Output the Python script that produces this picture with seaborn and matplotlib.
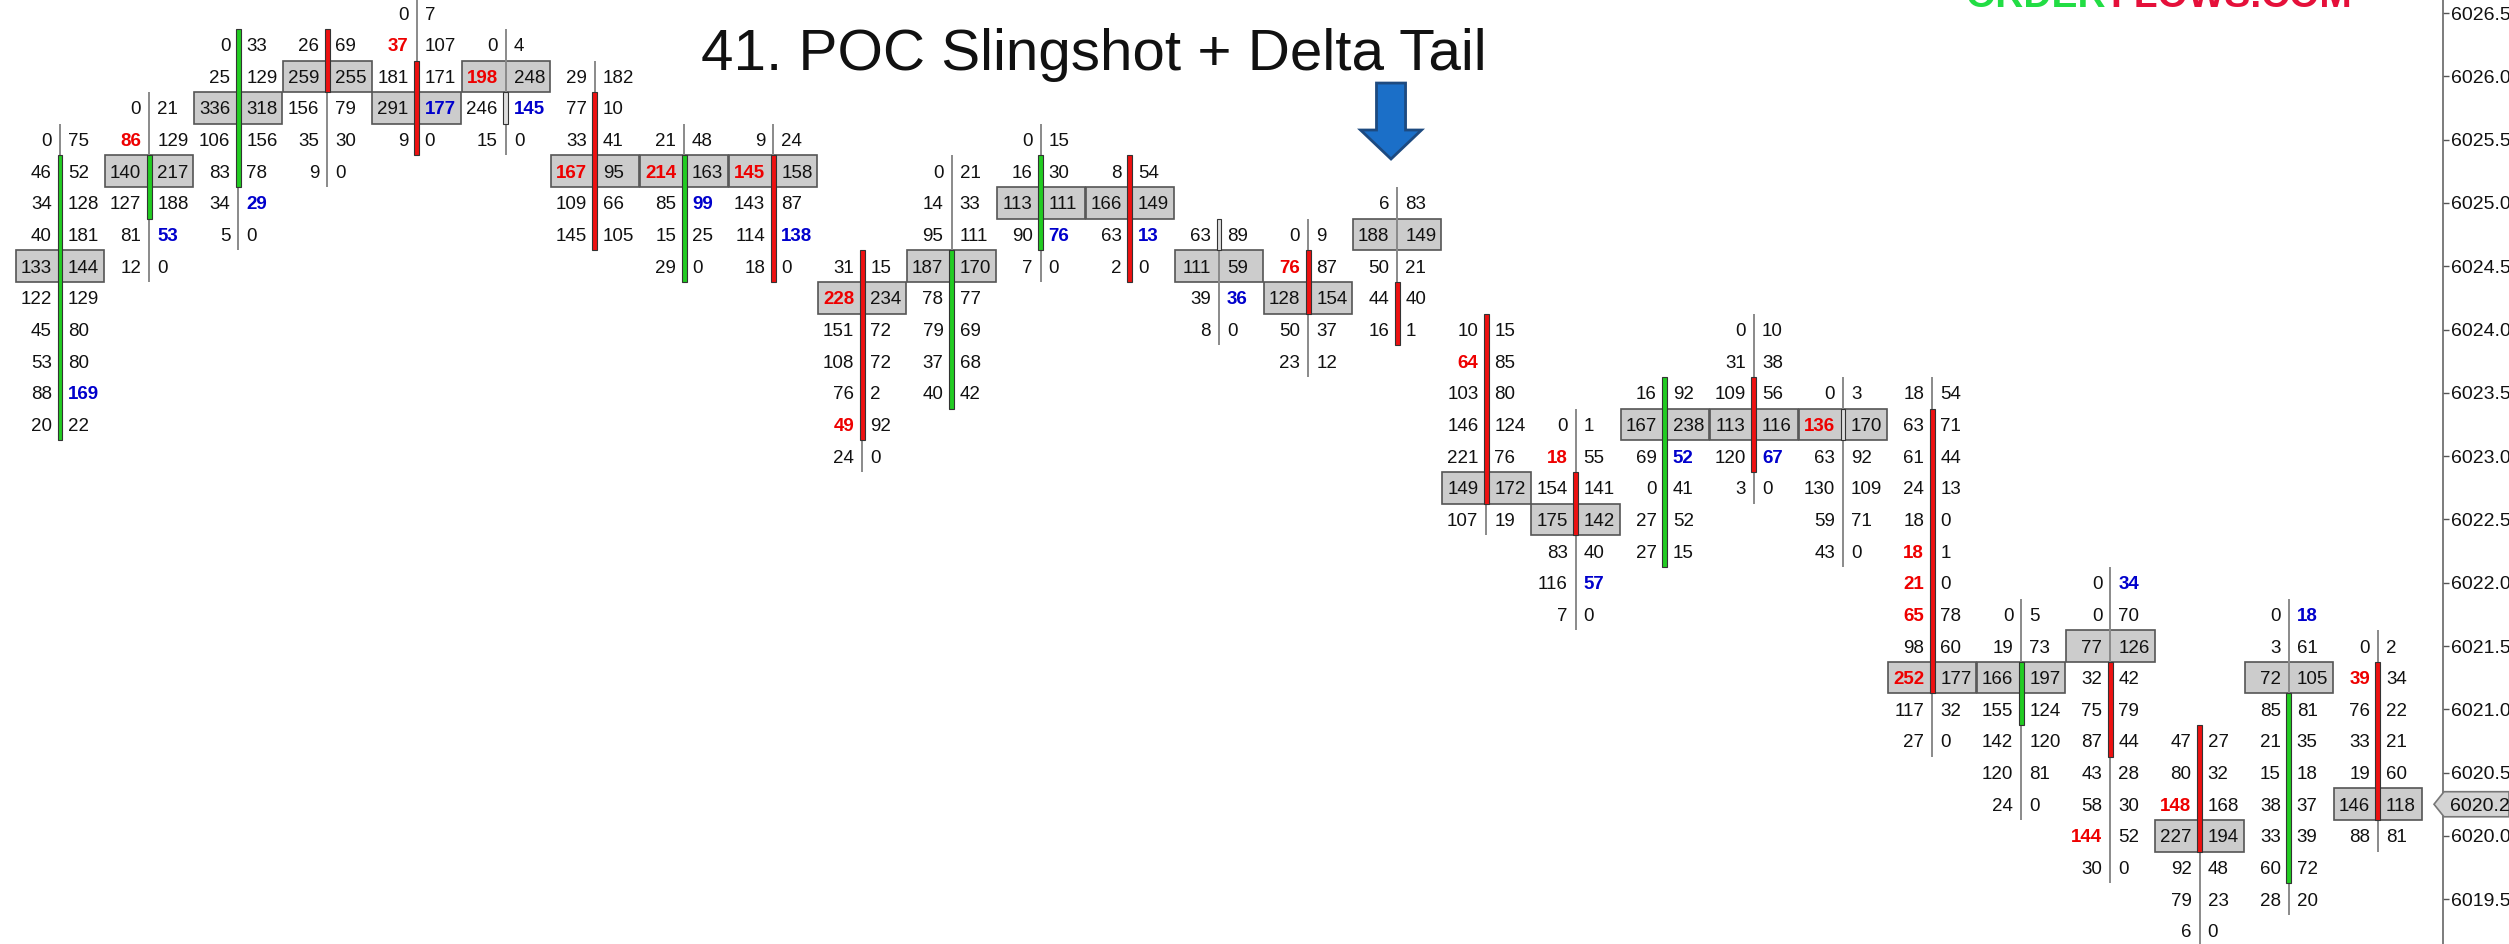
import numpy as np
import matplotlib
matplotlib.use('Agg')
import matplotlib.pyplot as plt
import matplotlib.patches as mpatches
import matplotlib.transforms as mtrans
from matplotlib.ticker import FormatStrFormatter
import seaborn as sns

TICK = 0.25

# footprint bars, left to right; rows listed from the high down to the low
high_price = [6025.5, 6025.75, 6026.25, 6026.25, 6026.5, 6026.25, 6026.0, 6025.5, 6025.5,
              6024.5, 6025.25, 6025.5, 6025.25, 6024.75, 6024.75, 6025.0, 6024.0, 6023.25,
              6023.5, 6024.0, 6023.5, 6023.5, 6021.75, 6022.0, 6020.75, 6021.75, 6021.5]
open_price = [6023.25, 6025.0, 6025.25, 6026.25, 6026.0, 6025.75, 6025.75, 6024.5, 6025.25,
              6024.5, 6023.5, 6024.75, 6025.25, 6024.75, 6024.5, 6024.25, 6024.0, 6022.75,
              6022.25, 6023.5, 6023.25, 6023.25, 6021.0, 6021.25, 6020.75, 6019.75, 6021.25]
close_price = [6025.25, 6025.25, 6026.25, 6026.0, 6025.5, 6025.75, 6024.75, 6025.25, 6024.5,
               6023.25, 6024.5, 6025.25, 6024.5, 6024.75, 6024.25, 6024.0, 6022.75, 6022.5,
               6023.5, 6023.0, 6023.25, 6021.25, 6021.25, 6020.75, 6020.0, 6021.0, 6020.25]

bid_vol = [
    [0, 46, 34, 40, 133, 122, 45, 53, 88, 20],
    [0, 86, 140, 127, 81, 12],
    [0, 25, 336, 106, 83, 34, 5],
    [26, 259, 156, 35, 9],
    [0, 37, 181, 291, 9],
    [0, 198, 246, 15],
    [29, 77, 33, 167, 109, 145],
    [21, 214, 85, 15, 29],
    [9, 145, 143, 114, 18],
    [31, 228, 151, 108, 76, 49, 24],
    [0, 14, 95, 187, 78, 79, 37, 40],
    [0, 16, 113, 90, 7],
    [8, 166, 63, 2],
    [63, 111, 39, 8],
    [0, 76, 128, 50, 23],
    [6, 188, 50, 44, 16],
    [10, 64, 103, 146, 221, 149, 107],
    [0, 18, 154, 175, 83, 116, 7],
    [16, 167, 69, 0, 27, 27],
    [0, 31, 109, 113, 120, 3],
    [0, 136, 63, 130, 59, 43],
    [18, 63, 61, 24, 18, 18, 21, 65, 98, 252, 117, 27],
    [0, 19, 166, 155, 142, 120, 24],
    [0, 0, 77, 32, 75, 87, 43, 58, 144, 30],
    [47, 80, 148, 227, 92, 79, 6],
    [0, 3, 72, 85, 21, 15, 38, 33, 60, 28],
    [0, 39, 76, 33, 19, 146, 88],
]
ask_vol = [
    [75, 52, 128, 181, 144, 129, 80, 80, 169, 22],
    [21, 129, 217, 188, 53, 0],
    [33, 129, 318, 156, 78, 29, 0],
    [69, 255, 79, 30, 0],
    [7, 107, 171, 177, 0],
    [4, 248, 145, 0],
    [182, 10, 41, 95, 66, 105],
    [48, 163, 99, 25, 0],
    [24, 158, 87, 138, 0],
    [15, 234, 72, 72, 2, 92, 0],
    [21, 33, 111, 170, 77, 69, 68, 42],
    [15, 30, 111, 76, 0],
    [54, 149, 13, 0],
    [89, 59, 36, 0],
    [9, 87, 154, 37, 12],
    [83, 149, 21, 40, 1],
    [15, 85, 80, 124, 76, 172, 19],
    [1, 55, 141, 142, 40, 57, 0],
    [92, 238, 52, 41, 52, 15],
    [10, 38, 56, 116, 67, 0],
    [3, 170, 92, 109, 71, 0],
    [54, 71, 44, 13, 0, 1, 0, 78, 60, 177, 32, 0],
    [5, 73, 197, 124, 120, 81, 0],
    [34, 70, 126, 42, 79, 44, 28, 30, 52, 0],
    [27, 32, 168, 194, 48, 23, 0],
    [18, 61, 105, 81, 35, 18, 37, 39, 72, 20],
    [2, 34, 22, 21, 60, 118, 81],
]

# (bar, row) of highlighted imbalances
bid_imbalance = [(1, 1), (4, 1), (5, 1), (6, 3), (7, 1), (8, 1), (9, 1), (9, 5), (14, 1),
                 (16, 1), (17, 1), (20, 1), (21, 5), (21, 6), (21, 7), (21, 9), (23, 8),
                 (24, 2), (26, 1)]
ask_imbalance = [(0, 8), (1, 4), (2, 5), (4, 3), (5, 2), (7, 2), (8, 3), (11, 3), (12, 2),
                 (13, 2), (17, 5), (18, 2), (19, 4), (23, 0), (25, 0)]

last_price = 6020.25
title = '41. POC Slingshot + Delta Tail'

sns.set_style('white')
plt.rcParams['font.family'] = ['Liberation Sans', 'DejaVu Sans']

W, H = 2509, 944
fig = plt.figure(figsize=(W / 100, H / 100), dpi=100)
ax = fig.add_axes([0, 0, 2443 / W, 1])

n = len(high_price)
idx = np.arange(n)
low_price = [h - TICK * (len(b) - 1) for h, b in zip(high_price, bid_vol)]
poc_price = [h - TICK * int(np.argmax(np.array(b) + np.array(a)))
             for h, b, a in zip(high_price, bid_vol, ask_vol)]

# POC cells
ax.bar(idx, TICK, bottom=np.array(poc_price) - TICK / 2, width=0.99,
       color='#cccccc', edgecolor='#555555', linewidth=1.2, zorder=1)

# wicks
ax.vlines(idx, np.array(low_price) - TICK / 2, np.array(high_price) + TICK / 2,
          color='#8a8a8a', linewidth=1.4, zorder=2)

# candle bodies
body_col = []
for o, c in zip(open_price, close_price):
    body_col.append('#22cc22' if c > o else ('#ee1111' if c < o else '#dddddd'))
body_lo = np.minimum(open_price, close_price) - TICK / 2
body_h = np.abs(np.array(close_price) - np.array(open_price)) + TICK
ax.bar(idx, body_h, bottom=body_lo, width=0.055, color=body_col,
       edgecolor='#333333', linewidth=0.8, zorder=3)

red_set = set(bid_imbalance)
blue_set = set(ask_imbalance)
for i in range(n):
    for r, (b, a) in enumerate(zip(bid_vol[i], ask_vol[i])):
        p = high_price[i] - TICK * r
        if (i, r) in red_set:
            ax.text(i - 0.09, p, str(b), ha='right', va='center_baseline', fontsize=13.5,
                    color='#ee0000', fontweight='bold', zorder=4)
        else:
            ax.text(i - 0.09, p, str(b), ha='right', va='center_baseline', fontsize=13.5,
                    color='#111111', zorder=4)
        if (i, r) in blue_set:
            ax.text(i + 0.09, p, str(a), ha='left', va='center_baseline', fontsize=13.5,
                    color='#0000cc', fontweight='bold', zorder=4)
        else:
            ax.text(i + 0.09, p, str(a), ha='left', va='center_baseline', fontsize=13.5,
                    color='#111111', zorder=4)

ax.set_xlim(-0.673, 26.73)
ax.set_ylim(6019.146, 6026.603)

# arrow over the delta tail bar
ax_x, tip = 14.93, 6025.347
arrow = mpatches.Polygon([(ax_x, tip), (ax_x - 0.342, 6025.576), (ax_x - 0.163, 6025.576),
                          (ax_x - 0.163, 6025.947), (ax_x + 0.163, 6025.947),
                          (ax_x + 0.163, 6025.576), (ax_x + 0.342, 6025.576)],
                         closed=True, facecolor='#1b6fc8', edgecolor='#1d4a80',
                         linewidth=2, zorder=5)
ax.add_patch(arrow)

# right price axis
sns.despine(ax=ax, left=True, bottom=True, top=True, right=False)
ax.spines['right'].set_color('#666666')
ax.spines['right'].set_linewidth(1.2)
ax.set_xticks([])
ax.yaxis.tick_right()
ax.set_yticks(np.arange(6019.5, 6026.51, 0.5))
ax.yaxis.set_major_formatter(FormatStrFormatter('%.1f'))
ax.tick_params(axis='y', which='both', right=True, labelright=True, left=False,
               labelleft=False, direction='out', length=4, width=1, color='#555555',
               pad=1.5, labelsize=14, labelcolor='#111111')

# last price marker
tr = mtrans.blended_transform_factory(fig.transFigure, ax.transData)
hh = 0.099
marker = mpatches.Polygon([(2434 / W, last_price), (2444 / W, last_price + hh), (1.0, last_price + hh),
                           (1.0, last_price - hh), (2444 / W, last_price - hh)], closed=True,
                          transform=tr, facecolor='#d4d4d4', edgecolor='#777777',
                          linewidth=1.2, clip_on=False, zorder=6)
fig.add_artist(marker)
fig.text(2450 / W, last_price, f'{last_price:.2f}', transform=tr, ha='left',
         va='center_baseline', fontsize=14, color='#111111', zorder=7)

fig.text(1093.5 / W, 1 - 70 / H, title, ha='center', va='baseline', fontsize=42,
         color='#111111')

# site logo, mostly above the top edge
fig.text(1965 / W, 1 - 7 / H, 'ORDER', ha='left', va='baseline', fontsize=28,
         fontweight='bold', color='#22dd44')
fig.text(2110 / W, 1 - 7 / H, 'FLOWS.COM', ha='left', va='baseline', fontsize=28,
         fontweight='bold', color='#e5103a')

fig.savefig('out.png', dpi=100)
